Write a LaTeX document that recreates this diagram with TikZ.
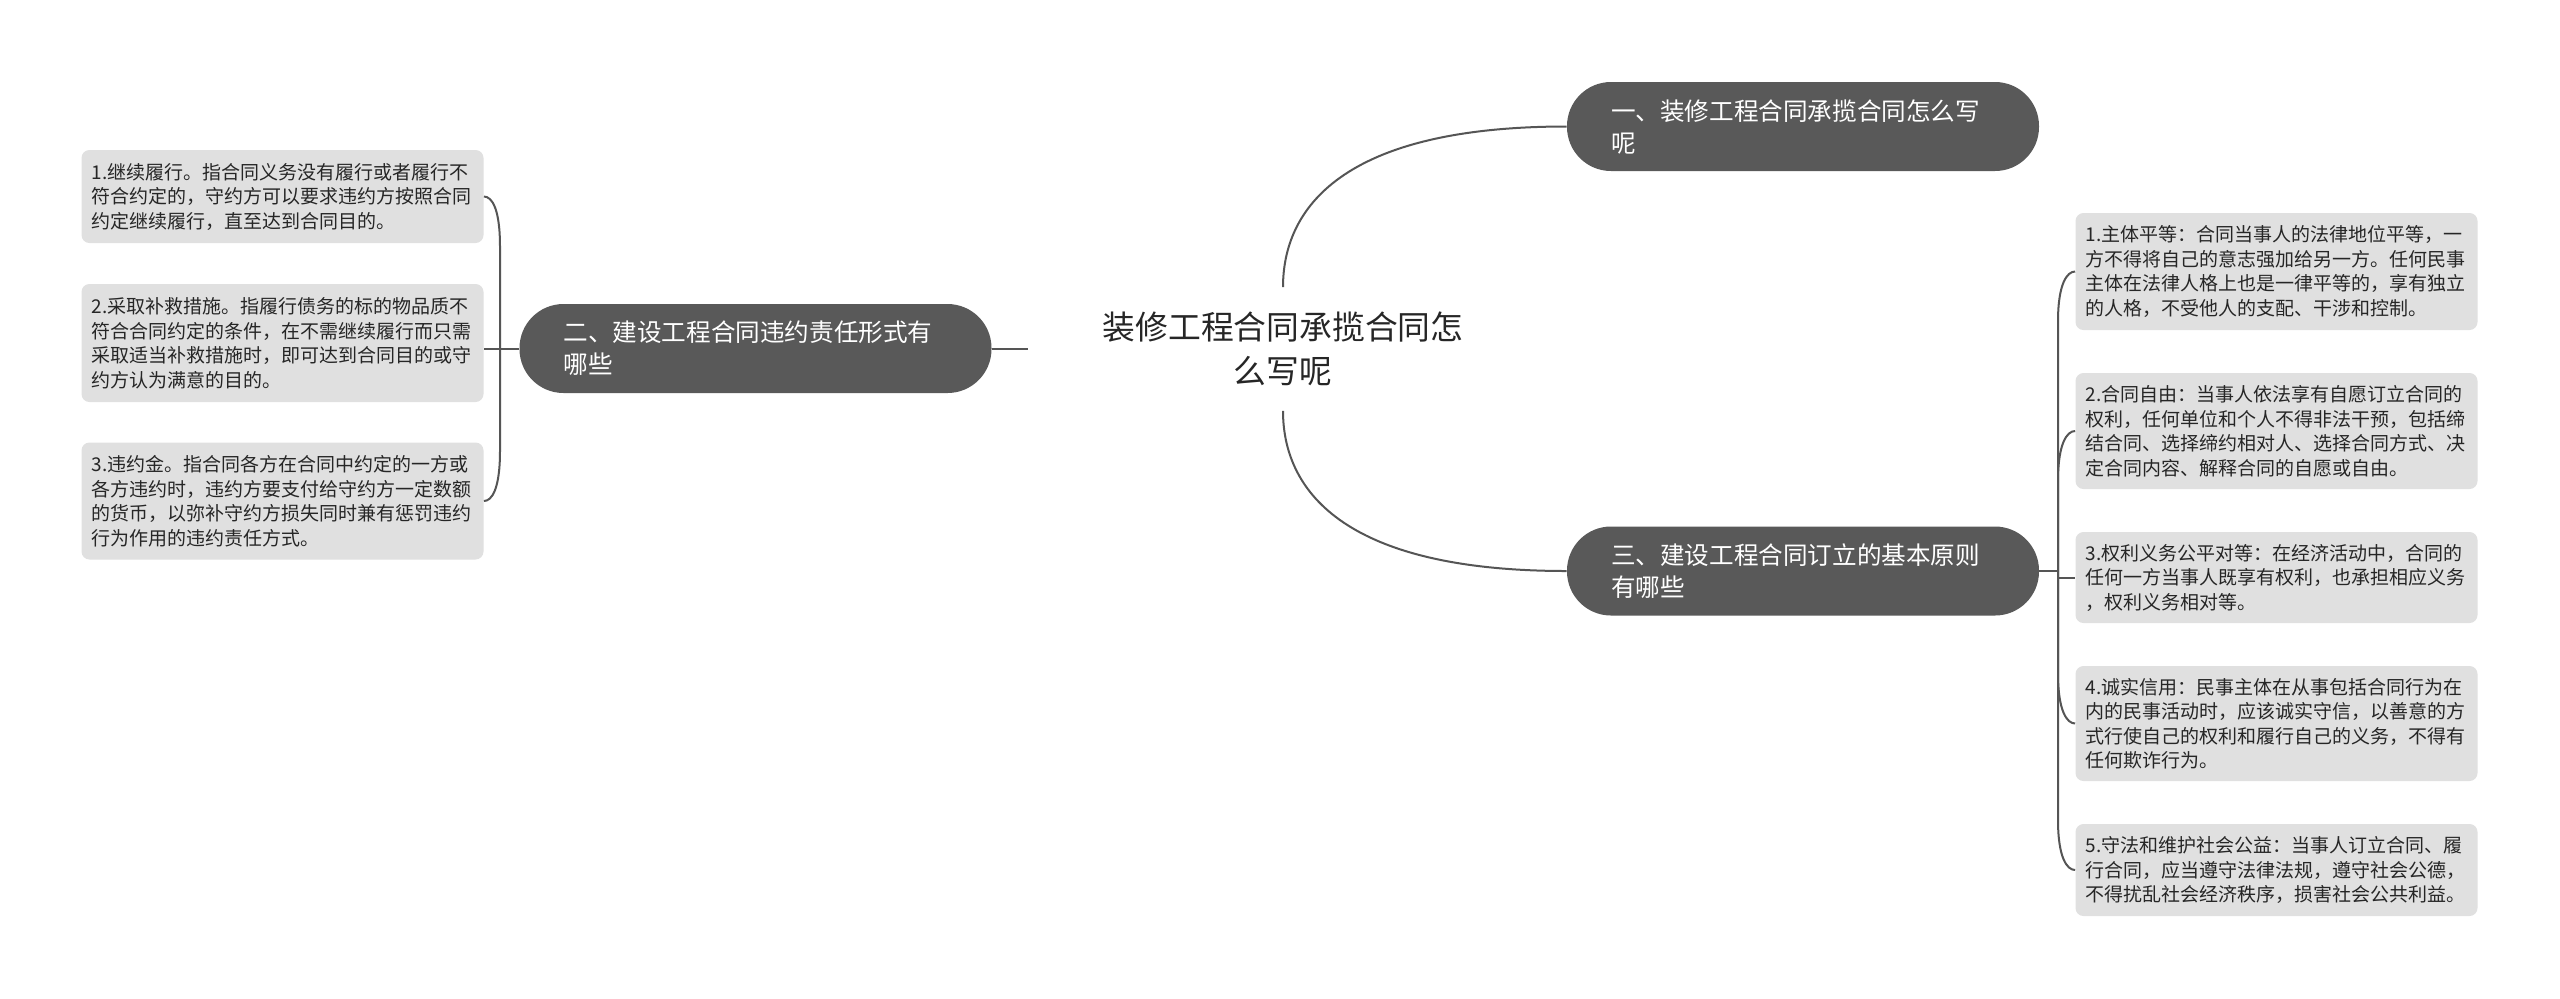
\documentclass[tikz,border=0pt]{standalone}
\usepackage{fontspec}
\setmainfont{Noto Sans CJK SC}
\usetikzlibrary{calc}
\definecolor{darkbox}{HTML}{595959}
\definecolor{lightbox}{HTML}{E0E0E0}
\definecolor{linec}{HTML}{555555}
\definecolor{txt}{HTML}{262626}
\begin{document}
\begin{tikzpicture}[x=0.5pt,y=-0.5pt,
  conn/.style={draw=linec,line width=1pt},
  leaf/.style={fill=lightbox,rounded corners=4pt,text=txt,align=left,text width=191pt,inner xsep=5pt,inner ysep=0pt,font=\fontsize{9.5pt}{12.25pt}\selectfont},
  topic/.style={fill=darkbox,rounded corners=22pt,text=white,align=left,text width=192pt,inner xsep=22pt,inner ysep=0pt,minimum height=44.5pt,font=\fontsize{12.3pt}{16pt}\selectfont},
  root/.style={align=center,text=txt,minimum width=255pt,minimum height=61.5pt,inner sep=0pt,font=\fontsize{16.4pt}{22pt}\selectfont}]
\fill[white] (0,0) rectangle (2560,998);
\useasboundingbox (0,0) rectangle (2560,998);

% root
\node[root] (C) at (1283,349) {装修工程合同承揽合同怎\\么写呢};

% main topics
\node[topic] (D1) at (1803,126.5) {一、装修工程合同承揽合同怎么写\\呢};
\node[topic] (D2) at (755.5,348.5) {二、建设工程合同违约责任形式有\\哪些};
\node[topic] (D3) at (1803,571) {三、建设工程合同订立的基本原则\\有哪些};

% left leaves
\node[leaf,minimum height=46.5pt] (L1) at (282.5,196.5) {1.继续履行。指合同义务没有履行或者履行不\\符合约定的，守约方可以要求违约方按照合同\\约定继续履行，直至达到合同目的。};
\node[leaf,minimum height=59pt] (L2) at (282.5,343) {2.采取补救措施。指履行债务的标的物品质不\\符合合同约定的条件，在不需继续履行而只需\\采取适当补救措施时，即可达到合同目的或守\\约方认为满意的目的。};
\node[leaf,minimum height=58.5pt] (L3) at (282.5,501) {3.违约金。指合同各方在合同中约定的一方或\\各方违约时，违约方要支付给守约方一定数额\\的货币，以弥补守约方损失同时兼有惩罚违约\\行为作用的违约责任方式。};

% right leaves
\node[leaf,minimum height=58.5pt] (R1) at (2276.5,271.5) {1.主体平等：合同当事人的法律地位平等，一\\方不得将自己的意志强加给另一方。任何民事\\主体在法律人格上也是一律平等的，享有独立\\的人格，不受他人的支配、干涉和控制。};
\node[leaf,minimum height=58pt] (R2) at (2276.5,431) {2.合同自由：当事人依法享有自愿订立合同的\\权利，任何单位和个人不得非法干预，包括缔\\结合同、选择缔约相对人、选择合同方式、决\\定合同内容、解释合同的自愿或自由。};
\node[leaf,minimum height=45.5pt] (R3) at (2276.5,577.5) {3.权利义务公平对等：在经济活动中，合同的\\任何一方当事人既享有权利，也承担相应义务\\，权利义务相对等。};
\node[leaf,minimum height=57.5pt] (R4) at (2276.5,723.5) {4.诚实信用：民事主体在从事包括合同行为在\\内的民事活动时，应该诚实守信，以善意的方\\式行使自己的权利和履行自己的义务，不得有\\任何欺诈行为。};
\node[leaf,minimum height=46pt] (R5) at (2276.5,870) {5.守法和维护社会公益：当事人订立合同、履\\行合同，应当遵守法律法规，遵守社会公德，\\不得扰乱社会经济秩序，损害社会公共利益。};

% root connectors
\draw[conn] (C.north) .. controls ($(C.north)+(0,-77)$) and ($(D1.west)+(-227,0)$) .. (D1.west);
\draw[conn] (C.south) .. controls ($(C.south)+(0,77)$) and ($(D3.west)+(-227,0)$) .. (D3.west);
\draw[conn] (D2.east) -- (D2.east -| C.west);

% left bracket
\coordinate (jL) at (500,348.5);
\draw[conn] (D2.west) -- (jL);
\draw[conn] (jL) -- ($(jL |- L1.east)+(0,50)$) .. controls ($(jL |- L1.east)+(0,12)$) and ($(L1.east)+(8,0)$) .. (L1.east);
\draw[conn] (jL) -- (jL -| L2.east);
\draw[conn] (jL) -- ($(jL |- L3.east)+(0,-50)$) .. controls ($(jL |- L3.east)+(0,-12)$) and ($(L3.east)+(8,0)$) .. (L3.east);

% right bracket
\coordinate (jR) at (2058,571);
\draw[conn] (D3.east) -- (jR);
\draw[conn] (jR) -- ($(jR |- R1.west)+(0,50)$) .. controls ($(jR |- R1.west)+(0,12)$) and ($(R1.west)+(-8,0)$) .. (R1.west);
\draw[conn] (jR) -- ($(jR |- R2.west)+(0,50)$) .. controls ($(jR |- R2.west)+(0,12)$) and ($(R2.west)+(-8,0)$) .. (R2.west);
\draw[conn] (jR) -- (jR |- R3.west) -- (R3.west);
\draw[conn] (jR) -- ($(jR |- R4.west)+(0,-50)$) .. controls ($(jR |- R4.west)+(0,-12)$) and ($(R4.west)+(-8,0)$) .. (R4.west);
\draw[conn] (jR) -- ($(jR |- R5.west)+(0,-50)$) .. controls ($(jR |- R5.west)+(0,-12)$) and ($(R5.west)+(-8,0)$) .. (R5.west);
\end{tikzpicture}
\end{document}
